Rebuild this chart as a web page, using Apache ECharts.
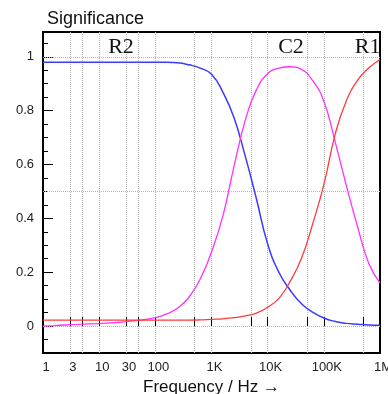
<!DOCTYPE html>
<html>
<head>
<meta charset="utf-8">
<script src="https://cdn.jsdelivr.net/npm/echarts@6/dist/echarts.min.js"></script>
<style>
  html, body { margin: 0; padding: 0; background: #fff; }
  #main { width: 388px; height: 394px; }
</style>
</head>
<body>
<div id="main"></div>
<script>
// frequency samples (Hz), about five per decade
var freqHz = [1, 1.6, 2.5, 4, 6.3, 10, 16, 25, 40, 63, 100, 160, 250, 400, 630, 1000, 1600, 2500, 4000, 6300,
  10000, 16000, 25000, 40000, 63000, 100000, 160000, 250000, 400000, 630000, 1000000];
var r2Sig = [0.98, 0.98, 0.98, 0.98, 0.98, 0.98, 0.98, 0.98, 0.98, 0.98, 0.98, 0.98, 0.978, 0.97, 0.958, 0.935, 0.868, 0.775, 0.63, 0.473,
  0.305, 0.198, 0.134, 0.083, 0.052, 0.03, 0.017, 0.01, 0.007, 0.004, 0.003];
var c2Sig = [0.0, 0.002, 0.004, 0.006, 0.008, 0.009, 0.012, 0.015, 0.019, 0.024, 0.031, 0.045, 0.067, 0.108, 0.175, 0.275, 0.41, 0.59, 0.765, 0.877,
  0.937, 0.958, 0.963, 0.953, 0.912, 0.835, 0.682, 0.524, 0.368, 0.233, 0.16];
var r1Sig = [0.022, 0.022, 0.022, 0.022, 0.022, 0.022, 0.022, 0.022, 0.022, 0.022, 0.022, 0.022, 0.022, 0.022, 0.023, 0.025, 0.027, 0.031, 0.038, 0.048,
  0.07, 0.104, 0.165, 0.252, 0.378, 0.525, 0.714, 0.835, 0.913, 0.958, 0.99];

var freqLabels = [1, 3, 10, 30, 100, 1000, 10000, 100000, 1000000];
var freqTicks = [3, 5, 10, 30, 50, 100, 500, 1000, 5000, 10000, 50000, 100000, 500000];
var sigLabels = [0, 0.2, 0.4, 0.6, 0.8, 1];
var sigMinorTicks = [-0.05, 0, 0.05, 0.1, 0.15, 0.2, 0.25, 0.3, 0.35, 0.4, 0.45, 0.5, 0.55,
  0.6, 0.65, 0.7, 0.75, 0.8, 0.85, 0.9, 0.95, 1, 1.05];
var sigGridLines = [0, 0.5, 1];

// curve names and where they sit
var curveNames = ['R2', 'C2', 'R1'];
var curveNamePos = [[24.5, 1.036], [26000, 1.036], [600000, 1.036]];

function pairs(vals) {
  return freqHz.map(function (f, i) { return [f, vals[i]]; });
}

function fmtFreq(v) {
  if (v >= 1e6) return (v / 1e6) + 'M';
  if (v >= 1e3) return (v / 1e3) + 'K';
  return String(v);
}

var chart = echarts.init(document.getElementById('main'));

function nameMark(i) {
  return {
    symbol: 'circle',
    symbolSize: 0,
    silent: true,
    itemStyle: { color: 'transparent' },
    label: {
      show: true,
      position: 'inside',
      formatter: curveNames[i],
      color: '#111',
      fontFamily: 'Liberation Serif',
      fontSize: 22
    },
    data: [{ coord: curveNamePos[i] }]
  };
}

var lineFont = { fontFamily: 'Liberation Sans', fontSize: 13, color: '#222' };

var option = {
  animation: false,
  title: {
    text: 'Significance',
    left: 42,
    top: 5,
    textStyle: { fontFamily: 'Liberation Sans', fontSize: 18, fontWeight: 'normal', color: '#111' }
  },
  grid: {
    left: 43, right: 8, top: 32, bottom: 41,
    outerBoundsMode: 'none',
    containLabel: false,
    show: true, borderColor: '#000', borderWidth: 2, backgroundColor: 'transparent'
  },
  xAxis: [{
    type: 'log',
    logBase: 10,
    min: 1,
    max: 1000000,
    position: 'bottom',
    name: 'Frequency / Hz \u2192',
    nameLocation: 'middle',
    nameGap: 24,
    nameTextStyle: { fontFamily: 'Liberation Sans', fontSize: 17, color: '#111' },
    axisLine: { show: false },
    axisTick: { show: true, inside: true, length: 9, customValues: freqTicks, lineStyle: { color: '#000' } },
    axisLabel: Object.assign({ customValues: freqLabels, formatter: fmtFreq, margin: 8, padding: [0, 0, 0, 6] }, lineFont),
    splitLine: { show: true, lineStyle: { type: 'dotted', color: '#b5b5b5', width: 1 } }
  }],
  yAxis: [{
    type: 'value',
    min: -0.1,
    max: 1.092,
    position: 'left',
    axisLine: { show: false },
    axisTick: { show: true, inside: true, length: 5, customValues: sigMinorTicks, lineStyle: { color: '#000' } },
    axisLabel: { show: false },
    splitLine: { show: false }
  }, {
    type: 'value',
    min: -0.1,
    max: 1.092,
    position: 'left',
    axisLine: { show: false },
    axisTick: { show: true, inside: true, length: 10, customValues: sigLabels, lineStyle: { color: '#000' } },
    axisLabel: Object.assign({ customValues: sigLabels, margin: 9 }, lineFont),
    splitLine: { show: false }
  }],
  series: [{
    name: 'R2',
    type: 'line',
    smooth: 0.5,
    showSymbol: false,
    data: pairs(r2Sig),
    lineStyle: { color: '#3a3aff', width: 1.5 },
    itemStyle: { color: '#3a3aff' },
    markLine: {
      silent: true,
      symbol: ['none', 'none'],
      label: { show: false },
      lineStyle: { type: 'dotted', color: '#b5b5b5', width: 1 },
      data: sigGridLines.map(function (v) { return { yAxis: v }; })
    },
    markPoint: nameMark(0)
  }, {
    name: 'C2',
    type: 'line',
    smooth: 0.5,
    showSymbol: false,
    data: pairs(c2Sig),
    lineStyle: { color: '#ff30ff', width: 1.3 },
    itemStyle: { color: '#ff30ff' },
    markPoint: nameMark(1)
  }, {
    name: 'R1',
    type: 'line',
    smooth: 0.5,
    showSymbol: false,
    data: pairs(r1Sig),
    lineStyle: { color: '#ff3a3a', width: 1.3 },
    itemStyle: { color: '#ff3a3a' },
    markPoint: nameMark(2)
  }]
};

chart.setOption(option);
</script>
</body>
</html>
